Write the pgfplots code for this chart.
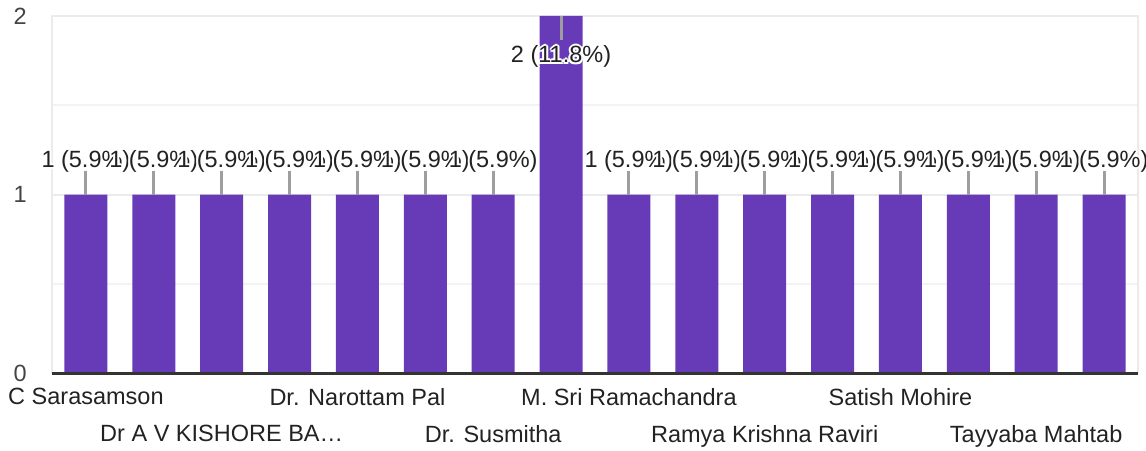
\documentclass[border=0pt]{standalone}
\usepackage{pgfplots}
\pgfplotsset{compat=1.18}
\usepackage{pgfplotstable}
\usepackage{fontspec}
\setmainfont{Liberation Sans}
\definecolor{barpurple}{HTML}{673AB7}
\definecolor{txt}{HTML}{222222}
\definecolor{ytxt}{HTML}{444444}
\definecolor{gridc}{HTML}{EBEBEB}
\definecolor{minorc}{HTML}{F3F3F3}
\definecolor{leader}{HTML}{9E9E9E}
\definecolor{zeroc}{HTML}{333333}
\newcommand\hc[3]{\makebox[0pt][l]{\hspace*{#1}\raisebox{#2}{\color{white}#3}}}
\newcommand\halo[1]{\hc{2pt}{0pt}{#1}\hc{-2pt}{0pt}{#1}\hc{0pt}{2pt}{#1}\hc{0pt}{-2pt}{#1}\hc{1.4pt}{1.4pt}{#1}\hc{-1.4pt}{1.4pt}{#1}\hc{1.4pt}{-1.4pt}{#1}\hc{-1.4pt}{-1.4pt}{#1}#1}
\pgfplotstableread[col sep=comma]{
x,y,off,ep,em,lab
0,1,27,0.134,0,1 (5.9\%)
1,1,27,0.134,0,1 (5.9\%)
2,1,27,0.134,0,1 (5.9\%)
3,1,27,0.134,0,1 (5.9\%)
4,1,27,0.134,0,1 (5.9\%)
5,1,27,0.134,0,1 (5.9\%)
6,1,27,0.134,0,1 (5.9\%)
7,2,-47,0,0.134,2 (11.8\%)
8,1,27,0.134,0,1 (5.9\%)
9,1,27,0.134,0,1 (5.9\%)
10,1,27,0.134,0,1 (5.9\%)
11,1,27,0.134,0,1 (5.9\%)
12,1,27,0.134,0,1 (5.9\%)
13,1,27,0.134,0,1 (5.9\%)
14,1,27,0.134,0,1 (5.9\%)
15,1,27,0.134,0,1 (5.9\%)
}\datatable
\begin{document}
\begin{tikzpicture}
\useasboundingbox (0,0) rectangle (1146pt,450pt);
\begin{axis}[
  at={(52pt,77pt)}, anchor=south west,
  scale only axis, width=1086pt, height=357pt,
  xmin=-0.5, xmax=15.5, ymin=0, ymax=2,
  ybar, bar width=43pt, bar shift=0pt,
  axis line style={draw=gridc, line width=2pt},
  ytick={0,1,2}, minor ytick={0.5,1.5},
  ymajorgrids, yminorgrids,
  major grid style={draw=gridc, line width=2pt},
  minor grid style={draw=minorc, line width=2pt},
  major tick length=0pt, minor tick length=0pt,
  tick style={draw=none},
  /pgf/number format/assume math mode=true,
  yticklabel style={font=\fontsize{23.5}{27}\selectfont, text=ytxt, anchor=east, inner sep=0pt, xshift=-25pt},
  xtick={0,4,8,12},
  xticklabels={C Sarasamson, Dr. Narottam Pal, M. Sri Ramachandra, Satish Mohire},
  extra x ticks={2,6,10,14},
  extra x tick labels={Dr A V KISHORE BA…, Dr. Susmitha, Ramya Krishna Raviri, Tayyaba Mahtab},
  extra x tick style={xticklabel style={yshift=-37pt}},
  xticklabel style={font=\fontsize{23.5}{27}\selectfont, text=txt, anchor=north, inner sep=0pt, yshift=-15pt},
  point meta=explicit symbolic,
  nodes near coords={\halo{\pgfplotspointmeta}},
  visualization depends on={\thisrow{off} \as \myoff},
  every node near coord/.append style={font=\fontsize{23.5}{27}\selectfont, text=txt, anchor=base, inner sep=0pt, yshift=\myoff},
  clip=false,
]
\addplot[fill=barpurple, draw=none,
  error bars/.cd, y dir=both, y explicit,
  error mark=none, error bar style={draw=leader, line width=3pt}]
  table[x=x, y=y, y error plus=ep, y error minus=em, meta=lab] {\datatable};
\draw[zeroc, line width=3pt] (rel axis cs:0,0) -- (rel axis cs:1,0);
\end{axis}
\end{tikzpicture}
\end{document}
